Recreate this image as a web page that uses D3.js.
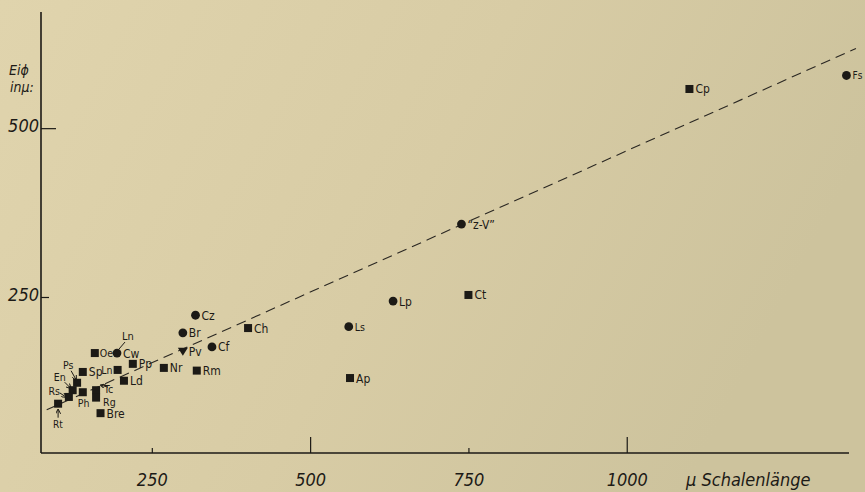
<!DOCTYPE html>
<html>
<head>
<meta charset="utf-8">
<script src="https://cdn.jsdelivr.net/npm/d3@7"></script>
<style>
  html, body { margin: 0; padding: 0; background: #dacea7; }
  svg { display: block; }
  .tick-label { font-family: "Liberation Sans Narrow", "DejaVu Sans Condensed", sans-serif; font-style: italic; fill: #1c1a16; }
  .pt-label { font-family: "DejaVu Sans Condensed", "DejaVu Sans", sans-serif; fill: #1c1a16; }
</style>
</head>
<body>
<svg id="chart" width="865" height="492"></svg>
<script>
// ---- data ----
const names = ["Fs","Cp","Z-V","Ct","Lp","Ls","Ap","Cz","Ch","Br","Cf","Pv","Nr","Rm","Pp","Ln","Ld","Cw","Oe","Sp","Tc","Rg","Bre","Ps","En","Ph","Rs","Rt"];
const shellLength = [1347,1099,739,750,631,561,563,319,402,299,345,299,269,321,220,196,206,195,160,141,162,162,169,132,125,141,119,102];
const eggDiameter = [578,558,358,253,244,206,130,223,204,197,176,169,145,141,151,142,126,167,167,139,112,101,78,123,112,109,102,92];
const markerType = ["circle","square","circle","square","circle","circle","square","circle","square","circle","circle","triangle","square","square","square","square","square","circle","square","square","square","square","square","square","square","square","square","square"];
const displayLabel = {"Z-V": "\u201Cz-V\u201D"};
const trendX = [84, 1362];
const trendY = [83, 618];
const xTicks = [250, 500, 750, 1000];
const xTickLabels = ["250", "500", "750", "1000"];
const yTicks = [250, 500];
const yTickLabels = ["250", "500"];
const xTitle = "\u00B5 Schalenl\u00E4nge";
const yTitle = ["Ei\u03D5", "in\u00B5:"];
const xDomain = [75, 1351];
const yDomain = [19, 672];

// ---- layout ----
const W = 865, H = 492;
const mLeft = 41, mRight = 849, mTop = 12, mBottom = 453;
const svg = d3.select("#chart");

const defs = svg.append("defs");
const grad = defs.append("linearGradient").attr("id", "bg").attr("x1", 0).attr("x2", 1).attr("y1", 0).attr("y2", 0.3);
grad.append("stop").attr("offset", "0%").attr("stop-color", "#e0d4ad");
grad.append("stop").attr("offset", "55%").attr("stop-color", "#d8cca5");
grad.append("stop").attr("offset", "100%").attr("stop-color", "#cdc39d");
defs.append("marker").attr("id", "arr").attr("viewBox", "0 0 6 6").attr("refX", 5).attr("refY", 3)
  .attr("markerWidth", 5).attr("markerHeight", 5).attr("orient", "auto")
  .append("path").attr("d", "M0,0 L6,3 L0,6").attr("fill", "none").attr("stroke", "#1c1a16").attr("stroke-width", 1.2);

svg.append("rect").attr("width", W).attr("height", H).attr("fill", "url(#bg)");

const x = d3.scaleLinear().domain(xDomain).range([mLeft, mRight]);
const y = d3.scaleLinear().domain(yDomain).range([mBottom, mTop]);

const ink = "#1c1a16";

// axes lines
svg.append("line").attr("x1", mLeft).attr("x2", mRight).attr("y1", mBottom).attr("y2", mBottom)
  .attr("stroke", ink).attr("stroke-width", 1.6);
svg.append("line").attr("x1", mLeft).attr("x2", mLeft).attr("y1", mTop).attr("y2", mBottom)
  .attr("stroke", ink).attr("stroke-width", 1.6);

// x ticks (long for 500/1000, short otherwise)
const xAxis = d3.axisBottom(x).tickValues(xTicks).tickSize(0).tickFormat((d, i) => xTickLabels[i]);
const gx = svg.append("g").attr("transform", `translate(0,${mBottom})`).call(xAxis);
gx.select(".domain").remove();
gx.selectAll(".tick line").remove();
gx.selectAll(".tick").append("line")
  .attr("y1", 0).attr("y2", d => (d % 500 === 0) ? -16 : -5)
  .attr("stroke", ink).attr("stroke-width", 1.2);
gx.selectAll(".tick text").attr("class", "tick-label").attr("y", 33).attr("dy", 0)
  .attr("font-size", 18).attr("fill", ink);

svg.append("text").attr("class", "tick-label").attr("x", 686).attr("y", 486)
  .attr("font-size", 18).text(xTitle);

// y ticks
const yAxis = d3.axisRight(y).tickValues(yTicks).tickSize(0).tickFormat((d, i) => yTickLabels[i]);
const gy = svg.append("g").attr("transform", `translate(${mLeft},0)`).call(yAxis);
gy.select(".domain").remove();
gy.selectAll(".tick line").remove();
gy.selectAll(".tick").append("line")
  .attr("x1", 0).attr("x2", d => d === 500 ? 15 : 8)
  .attr("stroke", ink).attr("stroke-width", 1.2);
gy.selectAll(".tick text").attr("class", "tick-label").attr("x", -2).attr("dy", "0.2em")
  .attr("text-anchor", "end").attr("font-size", 18).attr("fill", ink);

svg.append("text").attr("class", "tick-label").attr("x", 9).attr("y", 75).attr("font-size", 14).text(yTitle[0]);
svg.append("text").attr("class", "tick-label").attr("x", 10).attr("y", 92).attr("font-size", 14).text(yTitle[1]);

// trend line
svg.append("line")
  .attr("x1", x(trendX[0])).attr("y1", y(trendY[0]))
  .attr("x2", x(trendX[1])).attr("y2", y(trendY[1]))
  .attr("stroke", "#2a2722").attr("stroke-width", 1.1).attr("stroke-dasharray", "10,6");

// points
const pts = names.map((n, i) => ({ name: n, lx: shellLength[i], ly: eggDiameter[i], type: markerType[i] }));
const g = svg.append("g");
pts.forEach(p => {
  const px = x(p.lx), py = y(p.ly);
  if (p.type === "circle") {
    g.append("circle").attr("cx", px).attr("cy", py).attr("r", 4.4).attr("fill", ink);
  } else if (p.type === "square") {
    g.append("rect").attr("x", px - 4).attr("y", py - 4).attr("width", 8).attr("height", 8).attr("fill", ink);
  } else {
    g.append("path").attr("d", `M${px - 5},${py - 4} L${px + 5},${py - 4} L${px},${py + 4} Z`).attr("fill", ink);
  }
});

// label placement (offsets relative to marker), and arrows
const labelLayout = {
  "Ph": { dx: -5, dy: 15, anchor: "start", fs: 10.5 },
  "Rt": { dx: -5, dy: 24, anchor: "start", fs: 10, arrow: [0, 14, 0, 6] },
  "Rs": { dx: -9, dy: -2, anchor: "end", fs: 10.5, arrow: [-9, -4, -3, 0] },
  "En": { dx: -7, dy: -9, anchor: "end", fs: 10.5, arrow: [-8, -8, -2, -2] },
  "Ps": { dx: -14, dy: -14, anchor: "start", fs: 10.5, arrow: [-6, -12, -1, -3] },
  "Tc": { dx: 8, dy: 3, anchor: "start", fs: 10.5, arrow: [12, -3, 5, -5] },
  "Rg": { dx: 7, dy: 8, anchor: "start", fs: 10.5 },
  "Ln": { dx: -5, dy: 4, anchor: "end", fs: 10.5 },
  "Oe": { dx: 5, dy: 4, anchor: "start", fs: 10.5 },
  "Fs": { dx: 6, dy: 4, anchor: "start", fs: 10 },
  "Ls": { dx: 6, dy: 4, anchor: "start", fs: 10.5 }
};
pts.forEach(p => {
  const px = x(p.lx), py = y(p.ly);
  const L = labelLayout[p.name] || { dx: 6, dy: 4.5, anchor: "start", fs: 12 };
  g.append("text").attr("class", "pt-label").attr("x", px + L.dx).attr("y", py + L.dy)
    .attr("text-anchor", L.anchor).attr("font-size", L.fs).text(displayLabel[p.name] || p.name);
  if (L.arrow) {
    g.append("line").attr("x1", px + L.arrow[0]).attr("y1", py + L.arrow[1])
      .attr("x2", px + L.arrow[2]).attr("y2", py + L.arrow[3])
      .attr("stroke", ink).attr("stroke-width", 1).attr("marker-end", "url(#arr)");
  }
});

// extra "Ln" label with leader to the Cw point
const cw = pts.find(p => p.name === "Cw");
const cwx = x(cw.lx), cwy = y(cw.ly);
g.append("text").attr("class", "pt-label").attr("x", cwx + 5).attr("y", cwy - 13)
  .attr("font-size", 11).text("Ln");
g.append("line").attr("x1", cwx + 8).attr("y1", cwy - 11).attr("x2", cwx + 2).attr("y2", cwy - 4)
  .attr("stroke", ink).attr("stroke-width", 1);
</script>
</body>
</html>
